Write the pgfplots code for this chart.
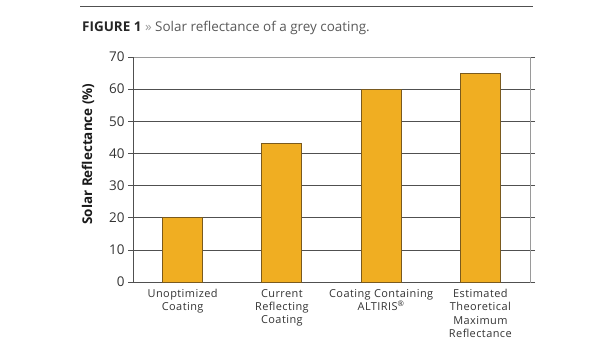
\documentclass[border=0pt]{standalone}
\usepackage{fontspec}
\setmainfont{Open Sans}
\usepackage{pgfplots}
\pgfplotsset{compat=1.18}
\definecolor{barfill}{HTML}{F0AE22}
\definecolor{baredge}{HTML}{7A5A1E}
\definecolor{gridc}{HTML}{505050}
\definecolor{framec}{HTML}{9A9A9A}
\definecolor{txt}{HTML}{333333}
\begin{document}
\begin{tikzpicture}[x=1bp,y=1bp]
\path[use as bounding box] (0,0) rectangle (615,350);
\draw[line width=1bp, color=gridc] (80,343) -- (533,343);
\node[anchor=base west, inner sep=0] at (82,319) {\fontsize{13.5}{16}\selectfont\textcolor{black!85}{\bfseries FIGURE 1} \textcolor{gray!80}{»} \textcolor{black!65}{Solar reflectance of a grey coating.}};
\node[rotate=90, inner sep=0, text=black!90] at (88,196) {\fontsize{13.5}{16}\selectfont\bfseries Solar Reflectance (\%)};
\begin{axis}[
  at={(133bp,68bp)}, anchor=south west,
  scale only axis, width=397bp, height=225bp,
  xmin=-0.5, xmax=3.5, ymin=0, ymax=70,
  ytick={0,10,...,70},
  xtick={0,1,2,3},
  xticklabels={{Unoptimized\\Coating},{Current\\Reflecting\\Coating},{Coating Containing\\ALTIRIS\textsuperscript{®}},{Estimated\\Theoretical\\Maximum\\Reflectance}},
  xticklabel style={align=center, font=\fontsize{11}{13.3}\selectfont\addfontfeature{LetterSpace=4}, text=txt, inner sep=1pt, yshift=-1bp},
  yticklabel style={font=\fontsize{13.5}{16}\selectfont, text=txt},
  /pgf/number format/assume math mode=true,
  major x tick style={draw=none},
  extra x ticks={-0.5,0.5,1.5,2.5,3.5},
  extra x tick labels={},
  extra x tick style={major tick length=4bp, tick style={draw=gridc, line width=0.6bp}, tick align=outside},
  y tick style={draw=gridc, line width=0.6bp},
  tick align=outside, major tick length=5bp,
  ymajorgrids, grid style={draw=gridc, line width=0.7bp},
  axis line style={draw=framec, line width=0.8bp},
  ybar, bar width=40bp,
  clip=false,
]
\draw[gridc, line width=0.8bp] (axis cs:-0.5,0) -- (axis cs:-0.5,70);
\draw[gridc, line width=0.8bp] (axis cs:-0.5,0) -- (axis cs:3.5,0);
\addplot[fill=barfill, draw=baredge, line width=0.8bp] coordinates {(0,20) (1,43) (2,60) (3,65)};
\end{axis}
\end{tikzpicture}
\end{document}
